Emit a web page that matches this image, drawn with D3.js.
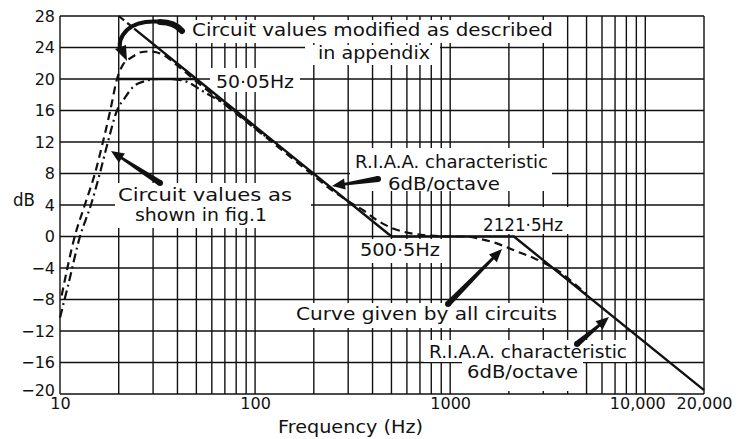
<!DOCTYPE html>
<html><head><meta charset="utf-8">
<script src="https://cdn.jsdelivr.net/npm/d3@7"></script>
<style>body{margin:0;background:#fff}svg{display:block}</style>
</head><body>
<svg id="chart" width="738" height="439"></svg>
<script>
// ---- data ----
const dbTicks = [28,24,20,16,12,8,4,0,-4,-8,-12,-16,-20];
const dbTickLabels = ["28","24","20","16","12","8","4","0","−4","−8","−12","−16","−20"];
const freqTicks = [10,100,1000,10000,20000];
const freqTickLabels = ["10","100","1000","10,000","20,000"];
const gridFreqs = [10,20,30,40,50,60,70,80,90,100,200,300,400,500,600,700,800,900,1000,
                   2000,3000,4000,5000,6000,7000,8000,9000,10000,20000];

// RIAA asymptotic characteristic (6 dB/octave), solid
const riaaFreq = [24, 50.05, 500.5, 2121.5, 20000];
const riaaDb   = [26.4, 20, 0, 0, -19.5];
// its upper dashed extension and the low-frequency shelf
const riaaTopFreq = [20, 24];
const riaaTopDb   = [28, 26.4];
const shelfFreq = [20, 50.05];
const shelfDb   = [20, 20];

// Circuit values modified as described in appendix (dashed) / curve given by all circuits
const modFreq = [10.2, 11.9, 13.4, 15.1, 16.6, 18.1, 19.6, 21, 23.5, 26, 29, 33, 40, 50, 60, 80, 100, 150, 200, 250,
                 300, 360, 420, 500, 600, 800, 1000, 1200, 1420, 1650, 1875, 2200, 2660, 3100, 3650, 4100, 5000];
const modDb   = [-7.5, 0, 4, 8, 12, 16, 20, 21.8, 22.8, 23.4, 23.5, 23.2, 21.7, 19.7, 18.1, 15.6, 13.7, 10.2, 7.7, 5.8,
                 4.5, 3.3, 2.1, 1.1, 0.5, 0.1, 0, 0, -0.3, -0.7, -1.2, -1.9, -2.7, -3.5, -4.5, -5.5, -7.3];

// Circuit values as shown in fig.1 (dash-dot)
const fig1Freq = [10, 11, 12.66, 14.4, 16, 17.6, 19.6, 21.5, 23.7, 27, 32, 36, 41, 46, 52, 58, 66, 75, 84, 100, 120];
const fig1Db   = [-10.3, -6.2, 0, 4, 8, 12, 16, 17.6, 19, 19.7, 20, 20, 19.9, 19.5, 18.7, 18.0, 17.2, 16.3, 15.3, 13.8, 12.2];

// ---- layout ----
const svg = d3.select("#chart");
const FONT = "'DejaVu Sans', sans-serif";
const x = d3.scaleLog().domain([10, 20000]).range([60, 704]);
const y = d3.scaleLinear().domain([-20, 28]).range([394, 16]);
const INK = "#111";

// grid
const grid = svg.append("g").attr("stroke", INK).attr("stroke-width", 1.4);
grid.selectAll("line.v").data(gridFreqs).join("line").attr("class","v")
  .attr("x1", d => x(d)).attr("x2", d => x(d)).attr("y1", y(28)).attr("y2", y(-20));
grid.selectAll("line.h").data(dbTicks).join("line").attr("class","h")
  .attr("x1", x(10)).attr("x2", x(20000)).attr("y1", d => y(d)).attr("y2", d => y(d));

// white knock-out panels behind annotation text
const boxes = [
  [186, 20, 372, 23], [305, 45, 135, 20], [210, 68, 90, 24],
  [350, 148, 202, 43], [115, 183, 196, 45], [352, 239, 95, 24],
  [478, 207, 92, 27], [290, 303, 272, 25], [424, 340, 208, 22], [462, 362, 121, 29]
];
svg.append("g").selectAll("rect").data(boxes).join("rect")
  .attr("x", d => d[0]).attr("y", d => d[1]).attr("width", d => d[2]).attr("height", d => d[3])
  .attr("fill", "#fff");

// axes (labels only)
const yAxis = svg.append("g").attr("transform", `translate(${x(10)},0)`)
  .call(d3.axisLeft(y).tickValues(dbTicks).tickFormat((d,i) => dbTickLabels[i]).tickSize(0).tickPadding(5));
yAxis.select(".domain").remove();
yAxis.selectAll("text").attr("font-size", 16).attr("font-family", FONT).attr("fill", INK)
  .attr("y", d => d === -20 ? -4 : 0);
yAxis.attr("font-family", null).attr("font-size", null);

const xAxis = svg.append("g").attr("transform", `translate(0,${y(-20)})`)
  .call(d3.axisBottom(x).tickValues(freqTicks).tickFormat((d,i) => freqTickLabels[i]).tickSize(0).tickPadding(4));
xAxis.select(".domain").remove();
xAxis.selectAll("text").attr("font-size", 16).attr("font-family", FONT).attr("fill", INK)
  .attr("dx", (d) => d === 10000 ? -8 : 0);
xAxis.attr("font-family", null).attr("font-size", null);

// curves
const line = d3.line().x(d => x(d[0])).y(d => y(d[1]));
const smooth = d3.line().x(d => x(d[0])).y(d => y(d[1])).curve(d3.curveMonotoneX);
const zip = (a, b) => a.map((v, i) => [v, b[i]]);

svg.append("path").attr("d", line(zip(riaaFreq, riaaDb)))
  .attr("fill","none").attr("stroke",INK).attr("stroke-width",2.4);
svg.append("path").attr("d", line(zip(shelfFreq, shelfDb)))
  .attr("fill","none").attr("stroke",INK).attr("stroke-width",2.4);
svg.append("path").attr("d", line(zip(riaaTopFreq, riaaTopDb)))
  .attr("fill","none").attr("stroke",INK).attr("stroke-width",2.2).attr("stroke-dasharray","7,4");
svg.append("path").attr("d", smooth(zip(modFreq, modDb)))
  .attr("fill","none").attr("stroke",INK).attr("stroke-width",2.2).attr("stroke-dasharray","8,5");
svg.append("path").attr("d", smooth(zip(fig1Freq, fig1Db)))
  .attr("fill","none").attr("stroke",INK).attr("stroke-width",2.2).attr("stroke-dasharray","9,4,2,4");

// text
function label(t, x0, yb, len, anchor="start") {
  const el = svg.append("text").attr("x", x0).attr("y", yb).attr("font-family", FONT)
    .attr("font-size", 17).attr("fill", INK).attr("text-anchor", anchor).text(t);
  if (len) el.attr("textLength", len).attr("lengthAdjust", "spacingAndGlyphs");
  return el;
}
label("Circuit values modified as described", 192, 36, 361);
label("in appendix", 318, 59, 112);
label("50·05Hz", 216, 88, 78);
label("R.I.A.A. characteristic", 355, 168, 193);
label("6dB/octave", 388, 190, 112);
label("Circuit values as", 118, 201, 174);
label("shown in fig.1", 135, 221, 132);
label("500·5Hz", 360, 256, 80);
label("2121·5Hz", 483, 231, 80);
label("Curve given by all circuits", 296, 320, 261);
label("R.I.A.A. characteristic", 429, 358, 198);
label("6dB/octave", 467, 378, 111);
label("Frequency (Hz)", 278, 433, 145);
label("dB", 13, 206, 22);

// arrows
function arrow(x1, y1, x2, y2, w1 = 6, headLen = 13, headW = 11) {
  const dx = x2 - x1, dy = y2 - y1, L = Math.hypot(dx, dy);
  const ux = dx / L, uy = dy / L, nx = -uy, ny = ux;
  const nxp = x2 - ux * headLen, nyp = y2 - uy * headLen;
  const pts = [
    [x1 + nx * w1 / 2, y1 + ny * w1 / 2],
    [nxp + nx * 1.4, nyp + ny * 1.4],
    [nxp + nx * headW / 2, nyp + ny * headW / 2],
    [x2, y2],
    [nxp - nx * headW / 2, nyp - ny * headW / 2],
    [nxp - nx * 1.4, nyp - ny * 1.4],
    [x1 - nx * w1 / 2, y1 - ny * w1 / 2]
  ];
  svg.append("path").attr("d", "M" + pts.map(p => p.join(",")).join("L") + "Z").attr("fill", INK);
  svg.append("circle").attr("cx", x1).attr("cy", y1).attr("r", w1 / 2).attr("fill", INK);
}
arrow(160, 183, 111, 151);
arrow(378, 179, 332, 186);
arrow(448, 304, 502, 249);
arrow(577, 344, 609, 317);

// curved arrow (top-left)
svg.append("path").attr("d", "M182,31 C172,19 140,18 127,30 C119,38 119,46 121,51")
  .attr("fill","none").attr("stroke",INK).attr("stroke-width",4).attr("stroke-linecap","round");
svg.append("path").attr("d", "M182,31 C176,24 168,22 160,22").attr("fill","none")
  .attr("stroke",INK).attr("stroke-width",6).attr("stroke-linecap","round");
svg.append("path").attr("d", "M115,49 L127,61 L126,45 Z").attr("fill", INK);
</script>
</body></html>
